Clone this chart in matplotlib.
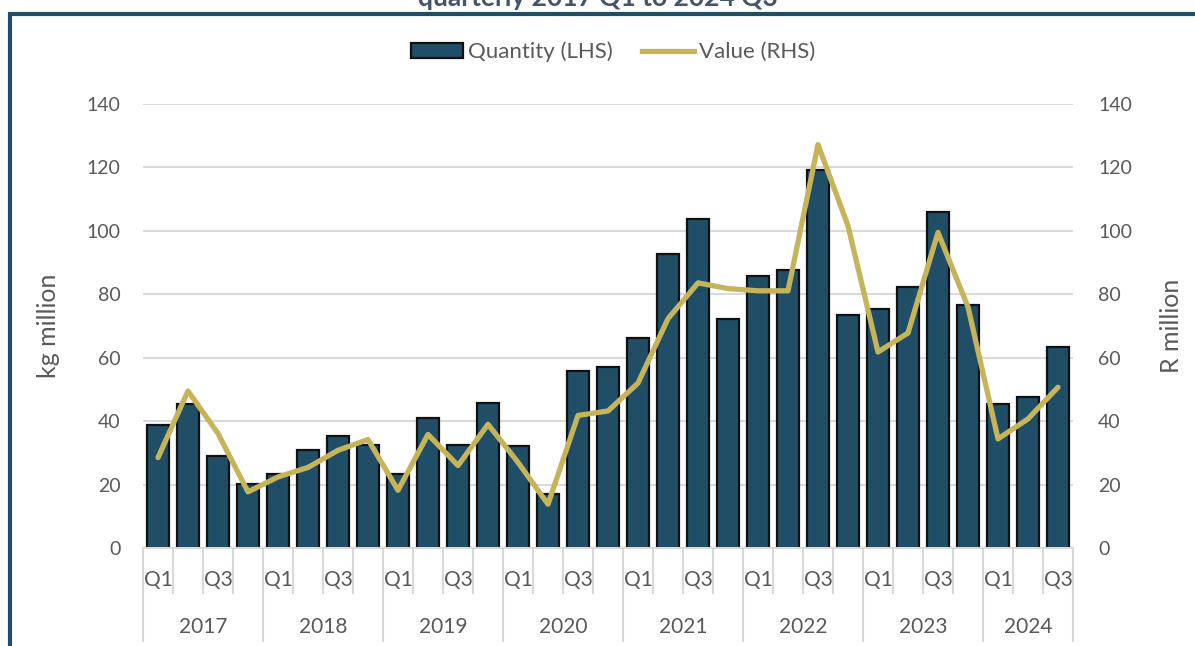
import matplotlib
matplotlib.use('Agg')
import matplotlib.pyplot as plt
import matplotlib.transforms as mtransforms
from matplotlib.patches import Rectangle, Patch
from matplotlib.lines import Line2D

plt.rcParams['font.family'] = ['Lato', 'DejaVu Sans']

# Data: quarterly 2017 Q1 .. 2024 Q3
years = ['2017', '2018', '2019', '2020', '2021', '2022', '2023', '2024']
quarters_per_year = [4, 4, 4, 4, 4, 4, 4, 3]
quarter_names = ['Q1', 'Q2', 'Q3', 'Q4']

quantity = [38.9, 45.5, 28.9, 20.1, 23.3, 31.0, 35.2, 32.5,
            23.3, 40.9, 32.5, 45.7, 32.1, 16.9, 55.8, 57.1,
            66.3, 92.8, 103.7, 72.3, 85.9, 87.6, 119.2, 73.5,
            75.5, 82.3, 106.1, 76.6, 45.3, 47.6, 63.4]
value = [28.5, 49.5, 36.1, 17.7, 22.4, 25.4, 30.8, 34.2,
         18.2, 35.8, 26.0, 39.0, 27.0, 13.8, 41.8, 43.2,
         52.0, 72.3, 83.6, 81.8, 81.1, 81.1, 127.2, 101.6,
         61.8, 67.8, 99.5, 76.0, 34.4, 40.7, 50.7]

bar_color = '#1F4E66'
line_color = '#C6B45A'
grid_color = '#D9D9D9'
text_color = '#595959'

quarter_labels = []
for n in quarters_per_year:
    quarter_labels += quarter_names[:n]
x = list(range(len(quantity)))

fig = plt.figure(figsize=(11.95, 6.46), dpi=100)
ax = fig.add_axes([143 / 1195, 1 - 548 / 646, 930 / 1195, 444 / 646])
ax2 = ax.twinx()

ax.bar(x, quantity, width=0.76, color=bar_color, edgecolor='#111111',
       linewidth=1.6, zorder=2)
ax2.plot(x, value, color=line_color, linewidth=3.8,
         solid_joinstyle='round', solid_capstyle='round', zorder=3)

for a in (ax, ax2):
    a.set_ylim(0, 140)
    a.set_yticks(range(0, 141, 20))
    a.set_xlim(-0.5, len(x) - 0.5)
    for s in a.spines.values():
        s.set_visible(False)
ax.spines['bottom'].set_visible(True)
ax.spines['bottom'].set_color(grid_color)
ax.spines['bottom'].set_linewidth(1.5)

ax.set_axisbelow(True)
ax.yaxis.grid(True, color=grid_color, linewidth=1.5)
ax.tick_params(axis='y', length=0, pad=16, labelsize=14, labelcolor=text_color)
ax2.tick_params(axis='y', length=0, pad=18, labelsize=14, labelcolor=text_color)
ax.set_xticks([])

ax.set_ylabel('kg million', fontsize=18, color=text_color)
ax.yaxis.set_label_coords(-0.089, 0.5)
ax2.set_ylabel('R million', fontsize=18, color=text_color, rotation=90)
ax2.yaxis.set_label_coords(1.0935, 0.5)

# two-level category axis
trans = mtransforms.blended_transform_factory(ax.transData, ax.transAxes)
for i, q in enumerate(quarter_labels):
    if q in ('Q1', 'Q3'):
        ax.text(i, -0.072, q, transform=trans, ha='center', va='center',
                fontsize=15, color=text_color)
start = 0
bounds = [-0.5]
for yr, n in zip(years, quarters_per_year):
    ax.text(start + (n - 1) / 2, -0.178, yr, transform=trans, ha='center',
            va='center', fontsize=15, color=text_color)
    start += n
    bounds.append(start - 0.5)
for b in range(len(x) + 1):
    pos = b - 0.5
    low = -0.21 if pos in bounds else -0.101
    ax.plot([pos, pos], [0, low], transform=trans, color=grid_color,
            linewidth=1.5, clip_on=False)

# legend
handles = [Patch(facecolor=bar_color, edgecolor='#111111', linewidth=1.6),
           Line2D([0], [0], color=line_color, linewidth=3.8)]
fig.legend(handles, ['Quantity (LHS)', 'Value (RHS)'], loc='center',
           bbox_to_anchor=(613 / 1195, 1 - 52 / 646), ncol=2, frameon=False,
           fontsize=16, labelcolor=text_color, handlelength=2.35,
           handleheight=0.6, handletextpad=0.2, columnspacing=1.35)

# cropped title and frame
fig.text(0.5, 1 - 5.5 / 646, 'quarterly 2017 Q1 to 2024 Q3', ha='center',
         va='baseline', fontsize=19, fontweight='bold', color='#44546A')
fig.patches.append(Rectangle((9.5 / 1195, -0.2), 1.3, 1.2 - 13.5 / 646,
                             transform=fig.transFigure, fill=False,
                             edgecolor=bar_color, linewidth=3))

fig.savefig('out.png', dpi=100)
